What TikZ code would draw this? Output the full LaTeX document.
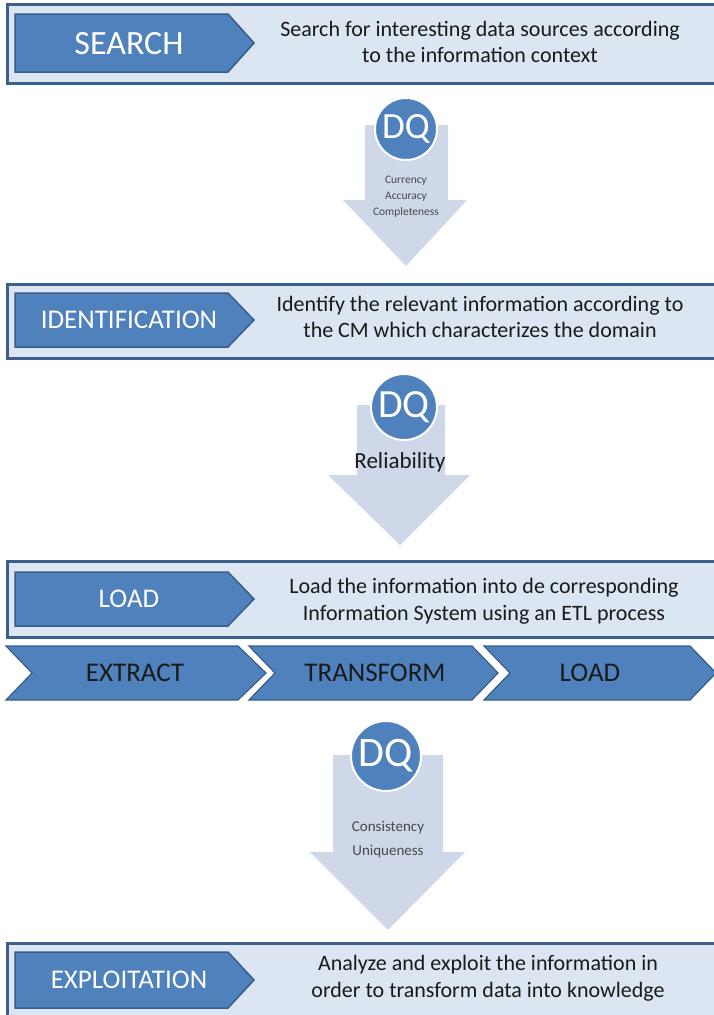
\documentclass[tikz,border=0pt]{standalone}
\usepackage{fontspec}
\setmainfont{Carlito}
\definecolor{boxfill}{HTML}{DCE6F2}
\definecolor{boxborder}{HTML}{3A5F8B}
\definecolor{stepfill}{HTML}{4F81BD}
\definecolor{stepborder}{HTML}{385D8A}
\definecolor{downfill}{HTML}{CFD8E8}
\definecolor{darktext}{HTML}{1A1A1A}
\begin{document}
\begin{tikzpicture}[x=1pt,y=-1pt,
  outerbox/.style={draw=boxborder, line width=2.5pt, fill=boxfill, anchor=north west, inner sep=0pt},
  stepshape/.style={draw=stepborder, line width=1.5pt, fill=stepfill},
  steptext/.style={text=white, font=\fontsize{27}{29}\selectfont, inner sep=0pt},
  desctext/.style={text=darktext, font=\fontsize{22}{26.5}\selectfont, align=center, inner sep=0pt},
  chevshape/.style={draw=stepborder, line width=1.2pt, fill=stepfill},
  chevtext/.style={text=darktext, font=\fontsize{27}{29}\selectfont, inner sep=0pt},
  downarrow/.style={fill=downfill, draw=none},
  dqcircle/.style={circle, fill=stepfill, draw=white, line width=2pt, text=white, inner sep=0pt},
  smalltext/.style={text=darktext!80, font=\fontsize{12}{15}\selectfont, align=center, inner sep=0pt}
]
\useasboundingbox (0,0) rectangle (714,1015);
\begin{scope}
\clip (0,0) rectangle (714,1015);
% outer boxes
\node[outerbox, minimum width=740pt, minimum height=79pt] (box1) at (6,3) {};
\node[outerbox, minimum width=740pt, minimum height=74pt] (box2) at (6,283) {};
\node[outerbox, minimum width=740pt, minimum height=76pt] (box3) at (6,560) {};
\node[outerbox, minimum width=740pt, minimum height=90pt] (box4) at (6,942) {};

% step arrows
\draw[stepshape] (15,14) -- (228,14) -- (254,43) -- (228,72) -- (15,72) -- cycle;
\node[steptext, font=\fontsize{34}{36}\selectfont] (search) at (129,44) {SEARCH};
\node[desctext] (d1) at (480,42) {Search for interesting data sources according\\to the information context};

\draw[stepshape] (15,293) -- (228,293) -- (254,320) -- (228,347) -- (15,347) -- cycle;
\node[steptext] (ident) at (129,320) {IDENTIFICATION};
\node[desctext] (d2) at (480,317) {Identify the relevant information according to\\the CM which characterizes the domain};

\draw[stepshape] (15,572) -- (228,572) -- (254,599) -- (228,626) -- (15,626) -- cycle;
\node[steptext] (load) at (129,599) {LOAD};
\node[desctext] (d3) at (484,601) {Load the information into de corresponding\\Information System using an ETL process};

\draw[stepshape] (15,952) -- (228,952) -- (254,980) -- (228,1008) -- (15,1008) -- cycle;
\node[steptext] (exploit) at (129,980) {EXPLOITATION};
\node[desctext] (d4) at (488,978) {Analyze and exploit the information in\\order to transform data into knowledge};

% ETL chevrons
\draw[chevshape] (6,646) -- (238,646) -- (266,673) -- (238,700) -- (6,700) -- (32,673) -- cycle;
\node[chevtext] (extract) at (135,673) {EXTRACT};
\draw[chevshape] (249,646) -- (472,646) -- (498,673) -- (472,700) -- (249,700) -- (275,673) -- cycle;
\node[chevtext] (transform) at (375,673) {TRANSFORM};
\draw[chevshape] (484,646) -- (690,646) -- (716,673) -- (690,700) -- (484,700) -- (510,673) -- cycle;
\node[chevtext] (loadetl) at (590,673) {LOAD};

% down arrows
\fill[downarrow] (365,125) -- (448,125) -- (448,200) -- (467,200) -- (406,266) -- (343,200) -- (365,200) -- cycle;
\node[dqcircle, minimum size=62pt, font=\fontsize{37}{37}\selectfont] (dq1) at (406,129) {DQ};
\node[smalltext, font=\fontsize{11.5}{16}\selectfont] (t1) at (406,197) {Currency\\Accuracy\\Completeness};

\fill[downarrow] (357,405) -- (445,405) -- (445,475) -- (470,475) -- (400,545) -- (328,475) -- (357,475) -- cycle;
\node[dqcircle, minimum size=66pt, font=\fontsize{40}{40}\selectfont] (dq2) at (404,407) {DQ};
\node[smalltext, font=\fontsize{23}{24}\selectfont, text=darktext] (t2) at (400,462) {Reliability};

\fill[downarrow] (333,755) -- (443,755) -- (443,852) -- (465,852) -- (388,930) -- (310,852) -- (333,852) -- cycle;
\node[dqcircle, minimum size=70pt, font=\fontsize{42}{42}\selectfont] (dq3) at (386,756) {DQ};
\node[smalltext, font=\fontsize{15}{24}\selectfont] (t3) at (388,840) {Consistency\\Uniqueness};
\end{scope}
\end{tikzpicture}
\end{document}
